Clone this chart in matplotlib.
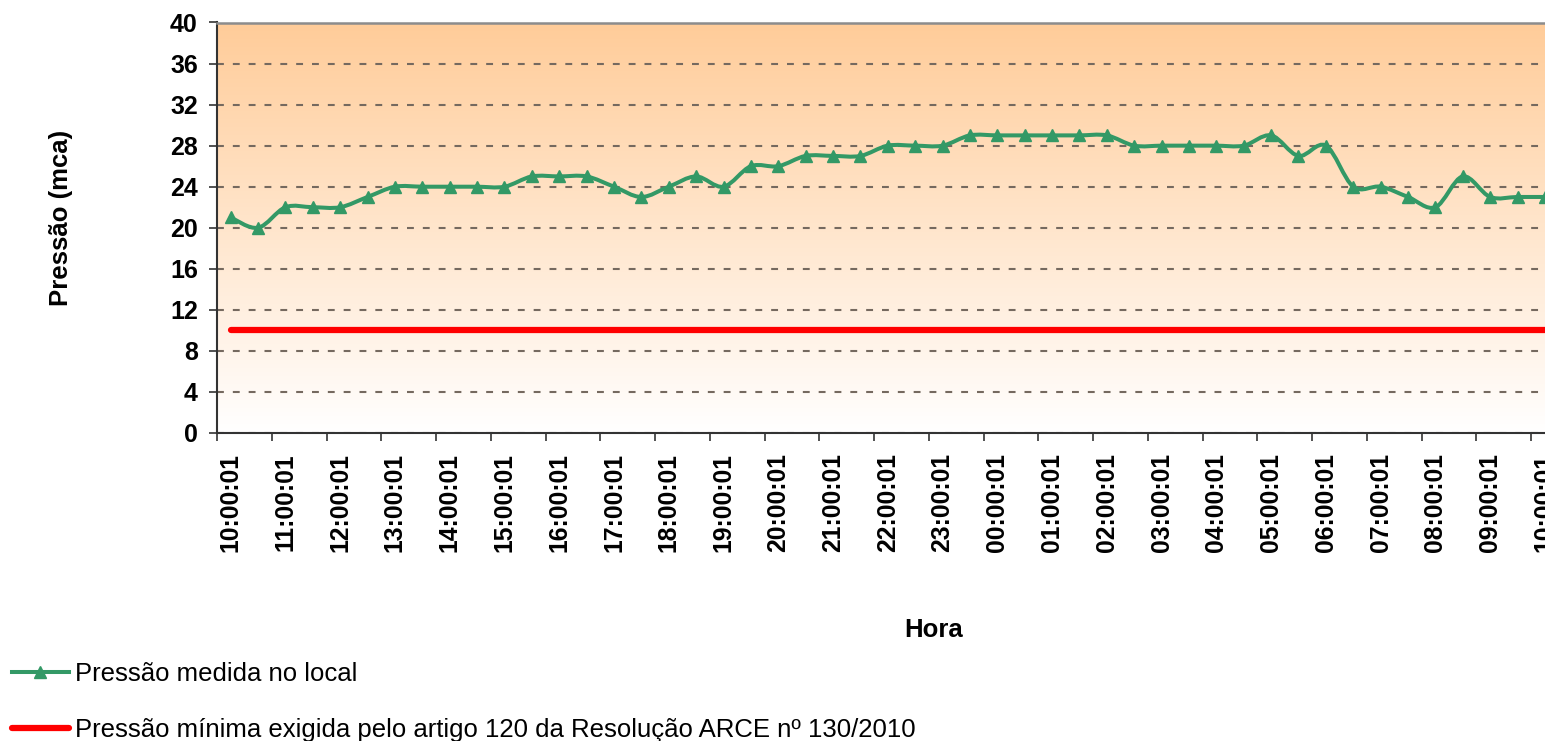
import matplotlib
matplotlib.use('Agg')
import matplotlib.pyplot as plt
import numpy as np
from matplotlib.path import Path
from matplotlib.patches import PathPatch
from matplotlib.lines import Line2D
from matplotlib.colors import LinearSegmentedColormap

plt.rcParams['font.family'] = ['Liberation Sans', 'DejaVu Sans']

# ---------------- data ----------------
horarios = ['10:00:01', '10:30:01', '11:00:01', '11:30:01', '12:00:01', '12:30:01',
            '13:00:01', '13:30:01', '14:00:01', '14:30:01', '15:00:01', '15:30:01',
            '16:00:01', '16:30:01', '17:00:01', '17:30:01', '18:00:01', '18:30:01',
            '19:00:01', '19:30:01', '20:00:01', '20:30:01', '21:00:01', '21:30:01',
            '22:00:01', '22:30:01', '23:00:01', '23:30:01', '00:00:01', '00:30:01',
            '01:00:01', '01:30:01', '02:00:01', '02:30:01', '03:00:01', '03:30:01',
            '04:00:01', '04:30:01', '05:00:01', '05:30:01', '06:00:01', '06:30:01',
            '07:00:01', '07:30:01', '08:00:01', '08:30:01', '09:00:01', '09:30:01',
            '10:00:01']

pressao_medida = [21, 20, 22, 22, 22, 23, 24, 24, 24, 24, 24, 25, 25, 25, 24, 23,
                  24, 25, 24, 26, 26, 27, 27, 27, 28, 28, 28, 29, 29, 29, 29, 29,
                  29, 28, 28, 28, 28, 28, 29, 27, 28, 24, 24, 23, 22, 25, 23, 23, 23]

pressao_minima = [10] * len(horarios)

rotulos_x = ['10:00:01', '11:00:01', '12:00:01', '13:00:01', '14:00:01', '15:00:01',
             '16:00:01', '17:00:01', '18:00:01', '19:00:01', '20:00:01', '21:00:01',
             '22:00:01', '23:00:01', '00:00:01', '01:00:01', '02:00:01', '03:00:01',
             '04:00:01', '05:00:01', '06:00:01', '07:00:01', '08:00:01', '09:00:01',
             '10:00:01']

yticks = [0, 4, 8, 12, 16, 20, 24, 28, 32, 36, 40]

serie_medida = 'Pressão medida no local'
serie_minima = 'Pressão mínima exigida pelo artigo 120 da Resolução ARCE nº 130/2010'

# ---------------- style ----------------
verde = '#339966'
vermelho = '#FF0000'

W, H = 1545, 741
fig = plt.figure(figsize=(W / 100, H / 100), dpi=100)
ax_left, ax_right, ax_top, ax_bot = 217, 1558.6, 22.5, 433
ax = fig.add_axes([ax_left / W, 1 - ax_bot / H, (ax_right - ax_left) / W, (ax_bot - ax_top) / H])

x = np.arange(len(horarios))

# gradient background
cmap = LinearSegmentedColormap.from_list('bg', ['#FFFFFF', '#FFCC99'])
grad = np.linspace(0, 1, 256).reshape(-1, 1)
ax.imshow(grad, extent=[0, 1, 0, 1], transform=ax.transAxes, origin='lower',
          cmap=cmap, aspect='auto', zorder=0, interpolation='bilinear')


def smooth_path(xs, ys):
    pts = np.column_stack([xs, ys]).astype(float)
    n = len(pts)
    verts = [pts[0]]
    codes = [Path.MOVETO]
    for i in range(n - 1):
        p0 = pts[max(i - 1, 0)]
        p1 = pts[i]
        p2 = pts[i + 1]
        p3 = pts[min(i + 2, n - 1)]
        c1 = p1 + (p2 - p0) / 6.0
        c2 = p2 - (p3 - p1) / 6.0
        verts += [c1, c2, p2]
        codes += [Path.CURVE4] * 3
    return Path(verts, codes)


# red minimum line
ax.plot(x, pressao_minima, color=vermelho, lw=4.5, solid_capstyle='round', zorder=3)

# smoothed measured line + markers
ax.add_patch(PathPatch(smooth_path(x, pressao_medida), facecolor='none',
                       edgecolor=verde, lw=2.9, zorder=4, transform=ax.transData))
ax.plot(x, pressao_medida, linestyle='none', marker='^', ms=8, color=verde, zorder=5)

ax.set_xlim(-0.5, len(horarios) - 0.5)
ax.set_ylim(0, 40)

# grid
ax.set_yticks(yticks)
ax.yaxis.grid(True, color='#75695f', lw=1.5, linestyle=(0, (3.3, 4.3)), zorder=1)
ax.xaxis.grid(False)

# spines
ax.spines['right'].set_visible(False)
ax.spines['top'].set_color('#8c8c8c')
ax.spines['top'].set_linewidth(1.8)
ax.spines['left'].set_color('#333333')
ax.spines['left'].set_linewidth(1.5)
ax.spines['bottom'].set_color('#333333')
ax.spines['bottom'].set_linewidth(1.5)

# y ticks
ax.tick_params(axis='y', labelsize=18, length=5.8, width=1.2, pad=8, color='#333333')
for lab in ax.get_yticklabels():
    lab.set_fontweight('bold')

# x ticks: labels at every other category, tick marks at category boundaries
ax.set_xticks(x[::2])
ax.set_xticklabels(rotulos_x, rotation=90, fontweight='bold', fontsize=17.8)
ax.tick_params(axis='x', which='major', length=0, pad=14.5)
ax.set_xticks(np.arange(-0.5, len(horarios) - 1, 2), minor=True)
ax.tick_params(axis='x', which='minor', length=5.8, width=1.2, color='#333333')

# axis titles
fig.text(61 / W, 1 - 218 / H, 'Pressão (mca)', rotation=90, fontsize=18.5,
         fontweight='bold', ha='center', va='center')
fig.text(934 / W, 1 - 630 / H, 'Hora', fontsize=18.5, fontweight='bold',
         ha='center', va='center')

# legend
h1 = Line2D([], [], color=verde, lw=2.9, marker='^', ms=8)
h2 = Line2D([], [], color=vermelho, lw=4.5, solid_capstyle='round')
fig.legend([h1, h2], [serie_medida, serie_minima], loc='upper left',
           bbox_to_anchor=(12 / W, 1 - 662 / H), frameon=False, fontsize=18.5,
           handlelength=2.2, handletextpad=0.25, labelspacing=1.25,
           borderpad=0, borderaxespad=0, numpoints=1)

fig.savefig('out.png', dpi=100)
